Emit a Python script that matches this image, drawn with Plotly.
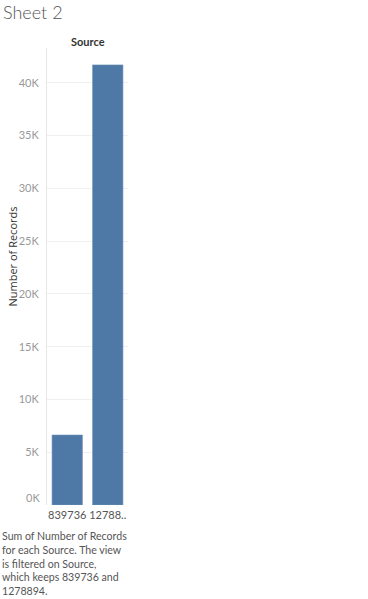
import plotly.graph_objects as go

categories = ["839736", "1278894"]
cat_labels = ["839736", "12788.."]
records = [6630, 41700]
tick_vals = [0, 5000, 10000, 15000, 20000, 25000, 30000, 35000, 40000]
tick_text = ["", "5K", "10K", "15K", "20K", "25K", "30K", "35K", "40K"]
caption_lines = [
    "Sum of Number of Records",
    "for each Source. The view",
    "is filtered on Source,",
    "which keeps 839736 and",
    "1278894.",
]

FONT = "Lato"
fig = go.Figure()
fig.add_trace(go.Bar(
    x=categories, y=records,
    marker=dict(color="#4e79a7", line=dict(color="#6f93ba", width=0.6)),
    width=0.75,
))

fig.update_layout(
    width=368, height=599,
    margin=dict(l=47, r=240, t=48, b=94),
    paper_bgcolor="white", plot_bgcolor="white",
    showlegend=False,
    font=dict(family=FONT, size=11, color="#666"),
    xaxis=dict(
        tickmode="array", tickvals=categories, ticktext=cat_labels,
        showgrid=False, showline=False, ticks="", tickangle=0, automargin=False,
        tickfont=dict(size=11, color="#555"), ticklabelstandoff=2,
    ),
    yaxis=dict(
        range=[0, 43300], tickmode="array", tickvals=tick_vals, ticktext=tick_text,
        showgrid=True, gridcolor="#f0f0f0", gridwidth=1, automargin=False,
        zeroline=False, showline=True, linecolor="#e6e6e6", linewidth=1,
        ticks="", tickfont=dict(size=11, color="#999"),
        ticklabelstandoff=5,
    ),
)

fig.add_annotation(text="Number of Records", xref="paper", yref="paper",
                   x=0, y=0.5, xshift=-35, yshift=20, textangle=-90,
                   xanchor="center", yanchor="middle", showarrow=False,
                   font=dict(family="Open Sans", size=11, color="#333"))
fig.add_annotation(text="0K", xref="paper", yref="y", x=0, y=0, xanchor="right",
                   yanchor="middle", xshift=-5, yshift=8, showarrow=False,
                   font=dict(size=11, color="#999"))
fig.add_annotation(text="Sheet 2", xref="paper", yref="paper", x=0, y=1,
                   xanchor="left", yanchor="middle", showarrow=False,
                   xshift=-46, yshift=36,
                   font=dict(size=18, color="#555", weight=300))
fig.add_annotation(text="Source", xref="paper", yref="paper", x=0.5, y=1,
                   xanchor="center", yanchor="middle", showarrow=False, yshift=7,
                   font=dict(size=11, color="#333", weight="bold"))
fig.add_annotation(text="<br>".join(caption_lines), xref="paper", yref="paper",
                   x=0, y=0, xanchor="left", yanchor="top", align="left",
                   showarrow=False, xshift=-47, yshift=-23,
                   font=dict(size=10.6, color="#555"))

fig.write_html("out.html", config={"displayModeBar": False},
               post_script="document.body.style.margin='0';document.body.style.padding='0';")
